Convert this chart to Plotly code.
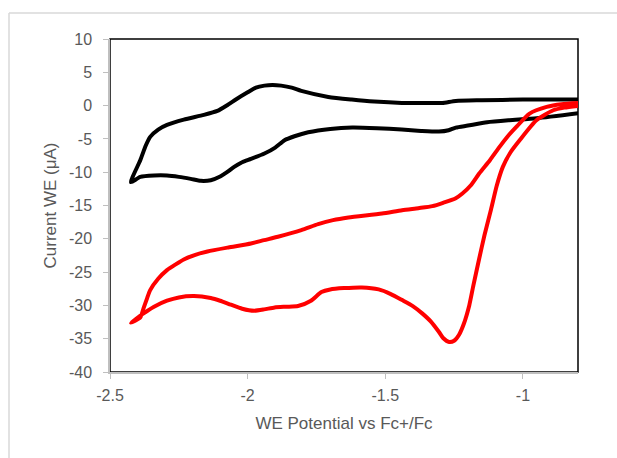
import plotly.graph_objects as go

# Black CV (starts at right on lower branch, goes to vertex, returns on upper branch)
black_x = [-0.79, -0.95, -1.05, -1.13, -1.20, -1.244, -1.27, -1.305, -1.37, -1.44, -1.53, -1.62,
           -1.70, -1.78, -1.83, -1.866, -1.90, -1.939, -1.988, -2.02, -2.049, -2.075, -2.098,
           -2.134, -2.17, -2.207, -2.25, -2.293, -2.34, -2.39, -2.424,
           -2.39, -2.37, -2.354, -2.325, -2.293, -2.232, -2.159, -2.11, -2.073, -2.04, -2.0,
           -1.97, -1.939, -1.91, -1.878, -1.84, -1.805, -1.707, -1.622, -1.54, -1.44, -1.35,
           -1.293, -1.244, -1.15, -1.0, -0.90, -0.79]
black_y = [-1.1, -1.9, -2.2, -2.5, -3.0, -3.3, -3.7, -3.9, -3.8, -3.6, -3.4, -3.3,
           -3.5, -4.0, -4.6, -5.2, -6.3, -7.2, -8.0, -8.5, -9.2, -10.0, -10.6,
           -11.2, -11.3, -11.0, -10.7, -10.5, -10.5, -10.7, -11.5,
           -8.2, -6.0, -4.7, -3.6, -2.9, -2.1, -1.4, -0.8, 0.1, 1.0, 2.0,
           2.7, 3.0, 3.1, 3.0, 2.7, 2.2, 1.3, 0.9, 0.6, 0.4, 0.4,
           0.4, 0.7, 0.8, 0.9, 0.9, 0.9]

# Red CV (starts at right, sweeps through reduction peak, vertex, returns on upper branch)
red_x = [-0.79, -0.85, -0.89, -0.951, -1.012, -1.045, -1.073, -1.095, -1.116, -1.14, -1.159,
         -1.18, -1.195, -1.215, -1.232, -1.25, -1.268, -1.29, -1.305, -1.335, -1.366, -1.40,
         -1.439, -1.48, -1.524, -1.585, -1.65, -1.70, -1.732, -1.77, -1.817, -1.86, -1.902,
         -1.94, -1.976, -2.02, -2.061, -2.10, -2.134, -2.195, -2.25, -2.293, -2.34, -2.378,
         -2.424,
         -2.39, -2.378, -2.365, -2.354, -2.325, -2.293, -2.26, -2.232, -2.19, -2.146, -2.07,
         -1.988, -1.94, -1.89, -1.805, -1.744, -1.69, -1.634, -1.512, -1.439, -1.38, -1.329,
         -1.29, -1.244, -1.22, -1.19, -1.159, -1.12, -1.085, -1.055, -1.024, -0.976, -0.914,
         -0.86, -0.79]
red_y = [0.0, -0.3, -0.7, -2.2, -5.2, -7.0, -9.2, -12.0, -15.6, -19.5, -23.0,
         -27.0, -30.0, -32.8, -34.4, -35.3, -35.5, -34.9, -34.0, -32.4, -31.2, -30.1,
         -29.2, -28.3, -27.6, -27.3, -27.4, -27.6, -28.0, -29.3, -30.1, -30.2, -30.3,
         -30.6, -30.8, -30.5, -29.9, -29.3, -28.9, -28.6, -28.8, -29.3, -30.2, -31.2,
         -32.6,
         -31.8, -30.4, -28.9, -27.7, -26.0, -24.7, -23.8, -23.1, -22.4, -21.9, -21.3,
         -20.7, -20.2, -19.7, -18.7, -17.8, -17.2, -16.8, -16.2, -15.7, -15.4, -15.1,
         -14.6, -13.9, -13.2, -12.0, -10.2, -8.2, -6.2, -4.6, -3.2, -1.2, -0.2,
         0.2, 0.4]

x_tickvals = [-2.5, -2.0, -1.5, -1.0]
x_ticktext = ["-2.5", "-2", "-1.5", "-1"]
y_tickvals = [10, 5, 0, -5, -10, -15, -20, -25, -30, -35, -40]
y_ticktext = ["10", "5", "0", "-5", "-10", "-15", "-20", "-25", "-30", "-35", "-40"]

font_color = "#595959"
axis_gray = "#BFBFBF"
tick_fs = 16
title_fs = 17

fig = go.Figure()
fig.add_trace(go.Scatter(x=black_x, y=black_y, mode="lines",
                         line=dict(color="black", width=4, shape="spline", smoothing=0.6),
                         showlegend=False, hoverinfo="skip"))
fig.add_trace(go.Scatter(x=red_x, y=red_y, mode="lines",
                         line=dict(color="#FF0000", width=4, shape="spline", smoothing=0.6),
                         showlegend=False, hoverinfo="skip"))

fig.update_layout(
    width=617, height=458,
    margin=dict(l=110, r=39, t=39, b=86),
    paper_bgcolor="white", plot_bgcolor="white",
    font=dict(family="Liberation Sans, Arial, sans-serif", size=tick_fs, color=font_color),
    xaxis=dict(range=[-2.5, -0.8], tickvals=x_tickvals, ticktext=x_ticktext,
               showgrid=False, zeroline=False, showline=True, linecolor=axis_gray,
               linewidth=1.5, ticks="outside", ticklen=5, tickcolor=axis_gray,
               ticklabelstandoff=3,
               title=dict(text="WE Potential vs Fc+/Fc", standoff=14,
                          font=dict(size=title_fs, color=font_color)),
               tickfont=dict(size=tick_fs, color=font_color)),
    yaxis=dict(range=[-40, 10], tickvals=y_tickvals, ticktext=y_ticktext,
               showgrid=False, zeroline=False, showline=True, linecolor=axis_gray,
               linewidth=1.5, ticks="outside", ticklen=5, tickcolor=axis_gray,
               ticklabelstandoff=8,
               title=dict(text="Current WE (μA)", standoff=8,
                          font=dict(size=title_fs, color=font_color)),
               tickfont=dict(size=tick_fs, color=font_color)),
    shapes=[
        dict(type="rect", xref="paper", yref="paper", x0=0, y0=0, x1=1, y1=1,
             line=dict(color="black", width=1.5), layer="below"),
        dict(type="line", xref="paper", yref="paper", x0=-0.2158, x1=1.1, y0=1.078, y1=1.078,
             line=dict(color="#D9D9D9", width=1.5)),
        dict(type="line", xref="paper", yref="paper", x0=-0.2158, x1=-0.2158, y0=1.078, y1=-0.3,
             line=dict(color="#D9D9D9", width=1.5)),
    ],
)

fig.write_html("out.html")
